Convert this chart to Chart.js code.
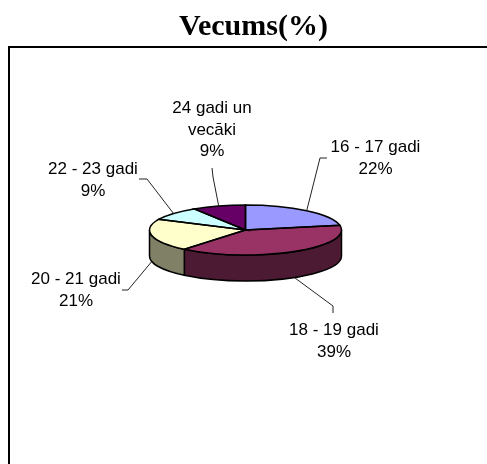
<!DOCTYPE html>
<html>
<head>
<meta charset="utf-8">
<style>
  html, body { margin: 0; padding: 0; background: #fff; }
  #wrap { position: relative; width: 487px; height: 464px; }
</style>
<script src="https://cdn.jsdelivr.net/npm/chart.js@4"></script>
</head>
<body>
<div id="wrap"><canvas id="pie"></canvas></div>
<script>
// Data
const categories = ['16 - 17 gadi', '18 - 19 gadi', '20 - 21 gadi', '22 - 23 gadi', '24 gadi un vecāki'];
const values = [22, 39, 21, 9, 9];
const topColors = ['#9999FF', '#993366', '#FFFFCC', '#CCFFFF', '#660066'];
const sideColors = ['#4D4D80', '#4D1A33', '#808066', '#668080', '#330033'];
const chartTitle = 'Vecums(%)';

// Label layout: text centre x, first baseline y, leader elbow and leader end
const labelCentres = [[375.5, 152], [334, 335], [76, 284], [93, 174], [212, 113]];
const leaderElbows = [[320, 158], [333, 306], [128, 290], [147, 179], [213, 177]];
const leaderEnds = [[327, 158], [333, 313], [122, 290], [139, 179], [212, 168]];

// Tilted pie settings
const pieX = 245.5, pieY = 230, pieR = 96, pieRy = 25, pieDepth = 26;
const lineHeight = 21.5;

function ellipsePoint(angle, drop) {
    return [pieX + pieR * Math.cos(angle), pieY + drop + pieRy * Math.sin(angle)];
}

function wrapLabel(text) {
    if (text.length <= 12) return [text];
    const cut = text.lastIndexOf(' ');
    return [text.slice(0, cut), text.slice(cut + 1)];
}

// Draws the pie side wall, squashes the library's arcs, then outlines and labels them
const tiltedPie = {
    id: 'tiltedPie',
    beforeDatasetsDraw(chart) {
        const ctx = chart.ctx;
        const arcs = chart.getDatasetMeta(0).data;

        // The plot frame only has a top and a left edge
        ctx.save();
        ctx.strokeStyle = '#000';
        ctx.lineWidth = 2;
        ctx.beginPath();
        ctx.moveTo(9, 464);
        ctx.lineTo(9, 47);
        ctx.lineTo(487, 47);
        ctx.stroke();

        // Side wall, only for the part of each slice at the front
        ctx.lineWidth = 1.5;
        arcs.forEach((arc, i) => {
            const a0 = Math.max(arc.startAngle, 0);
            const a1 = Math.min(arc.endAngle, Math.PI);
            if (a1 <= a0) return;
            ctx.fillStyle = sideColors[i];
            ctx.beginPath();
            ctx.ellipse(pieX, pieY + pieDepth, pieR, pieRy, 0, a0, a1);
            ctx.ellipse(pieX, pieY, pieR, pieRy, 0, a1, a0, true);
            ctx.closePath();
            ctx.fill();
            ctx.stroke();
        });
        ctx.restore();

        ctx.save();
        ctx.translate(pieX, pieY);
        ctx.scale(1, pieRy / pieR);
        ctx.translate(-arcs[0].x, -arcs[0].y);
    },
    afterDatasetsDraw(chart) {
        const ctx = chart.ctx;
        const arcs = chart.getDatasetMeta(0).data;
        ctx.restore();

        ctx.save();
        ctx.strokeStyle = '#000';
        ctx.lineWidth = 1.5;
        arcs.forEach(arc => {
            ctx.beginPath();
            ctx.moveTo(pieX, pieY);
            ctx.ellipse(pieX, pieY, pieR, pieRy, 0, arc.startAngle, arc.endAngle);
            ctx.closePath();
            ctx.stroke();
        });

        // Leader lines start from the middle of each slice
        ctx.lineWidth = 1;
        ctx.strokeStyle = '#222';
        arcs.forEach((arc, i) => {
            const mid = (arc.startAngle + arc.endAngle) / 2;
            const start = ellipsePoint(mid, Math.sin(mid) > 0 ? pieDepth : 0);
            ctx.beginPath();
            ctx.moveTo(start[0], start[1]);
            ctx.lineTo(leaderElbows[i][0], leaderElbows[i][1]);
            ctx.lineTo(leaderEnds[i][0], leaderEnds[i][1]);
            ctx.stroke();
        });

        // Category and percent text
        ctx.fillStyle = '#000';
        ctx.font = '17px "Liberation Sans"';
        ctx.textAlign = 'center';
        ctx.textBaseline = 'alphabetic';
        categories.forEach((name, i) => {
            const lines = wrapLabel(name).concat(values[i] + '%');
            lines.forEach((line, n) => {
                ctx.fillText(line, labelCentres[i][0], labelCentres[i][1] + n * lineHeight);
            });
        });
        ctx.restore();
    }
};

new Chart(document.getElementById('pie'), {
    type: 'pie',
    data: {
        labels: categories,
        datasets: [{
            data: values,
            backgroundColor: topColors,
            borderWidth: 0,
            radius: pieR
        }]
    },
    options: {
        responsive: true,
        maintainAspectRatio: false,
        animation: false,
        layout: { padding: { left: 20 } },
        plugins: {
            legend: { display: false },
            tooltip: { enabled: false },
            title: {
                display: true,
                text: chartTitle,
                color: '#000',
                font: { family: '"Liberation Serif"', size: 30, weight: 'bold' },
                padding: { top: 9, bottom: 6 }
            }
        }
    },
    plugins: [tiltedPie]
});
</script>
</body>
</html>
